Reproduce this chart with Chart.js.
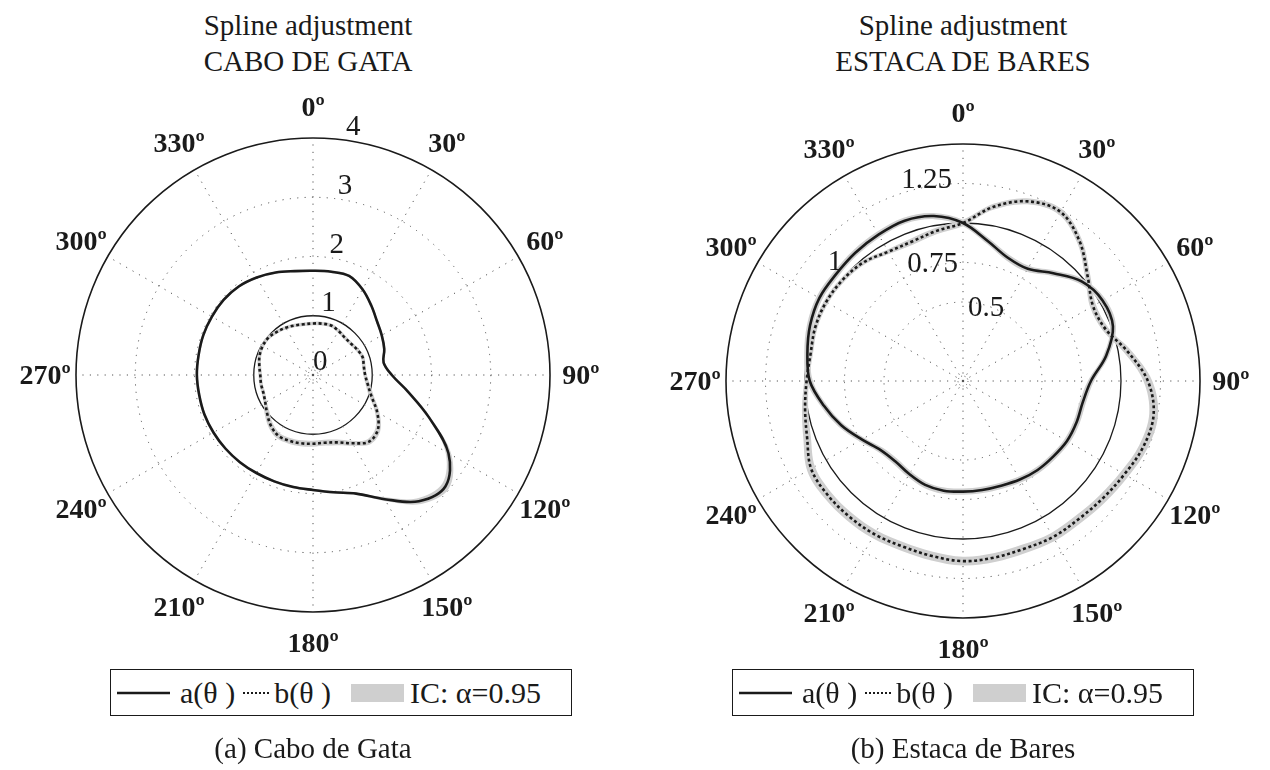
<!DOCTYPE html>
<html>
<head>
<meta charset="utf-8">
<title>Spline adjustment</title>
<script src="https://cdn.jsdelivr.net/npm/chart.js@4.4.1/dist/chart.umd.min.js"></script>
<style>
  html, body { margin: 0; padding: 0; background: #fff; }
  #page { position: relative; width: 1270px; height: 770px; overflow: hidden;
          font-family: "Liberation Serif", "Times New Roman", serif; color: #1a1a1a; }
  canvas { position: absolute; top: 0; }
  .title { position: absolute; top: 7px; width: 420px; text-align: center;
           font-size: 29px; line-height: 36px; }
  .legend { position: absolute; top: 669px; width: 462px; height: 47px; box-sizing: border-box;
            border: 1.5px solid #1a1a1a; background: #fff; display: flex; align-items: center;
            padding: 0 0 0 6px; font-size: 30px; white-space: nowrap; }
  .legend svg { display: block; flex: none; }
  .legend .ci { display: inline-block; flex: none; width: 53px; height: 18px; background: #cfcfcf; }
  .legend .g10 { margin-left: 10px; }
  .legend .g8 { margin-left: 8px; }
  .legend .g4 { margin-left: 4px; }
  .legend .g20 { margin-left: 20px; }
  .legend .g6 { margin-left: 6px; }
  .caption { position: absolute; top: 730px; width: 420px; text-align: center;
             font-size: 29px; line-height: 36px; }
</style>
</head>
<body>
<div id="page">
  <div class="title" style="left:98px">Spline adjustment<br>CABO DE GATA</div>
  <div class="title" style="left:753px">Spline adjustment<br>ESTACA DE BARES</div>

  <canvas id="gata" width="635" height="770" style="left:0"></canvas>
  <canvas id="bares" width="635" height="770" style="left:635px"></canvas>

  <div class="legend" style="left:110px">
    <svg width="53" height="12"><line x1="0" y1="6" x2="53" y2="6" stroke="#1a1a1a" stroke-width="2.6"/></svg>
    <span class="g10">a(θ )</span>
    <svg class="g8" width="27" height="12"><line x1="0" y1="6" x2="27" y2="6" stroke="#1a1a1a" stroke-width="2" stroke-dasharray="2 2"/></svg>
    <span class="g4">b(θ )</span>
    <span class="ci g20"></span>
    <span class="g6">IC: α=0.95</span>
  </div>
  <div class="legend" style="left:732px">
    <svg width="53" height="12"><line x1="0" y1="6" x2="53" y2="6" stroke="#1a1a1a" stroke-width="2.6"/></svg>
    <span class="g10">a(θ )</span>
    <svg class="g8" width="27" height="12"><line x1="0" y1="6" x2="27" y2="6" stroke="#1a1a1a" stroke-width="2" stroke-dasharray="2 2"/></svg>
    <span class="g4">b(θ )</span>
    <span class="ci g20"></span>
    <span class="g6">IC: α=0.95</span>
  </div>

  <div class="caption" style="left:103px">(a) Cabo de Gata</div>
  <div class="caption" style="left:753px">(b) Estaca de Bares</div>
</div>

<script>
// Direction (degrees, clockwise from north) of every spline sample
const thetaDeg = [0, 10, 20, 30, 40, 50, 60, 70, 80, 90, 100, 110,
                  120, 130, 140, 150, 160, 170, 180, 190, 200, 210, 220, 230,
                  240, 250, 260, 270, 280, 290, 300, 310, 320, 330, 340, 350];
const angleTickLabels = ['0º', '30º', '60º', '90º', '120º', '150º',
                         '180º', '210º', '240º', '270º', '300º', '330º'];

// Cabo de Gata: a(θ), b(θ) and half-width of the 95% interval
const gataA = [1.76, 1.77, 1.78, 1.67, 1.53, 1.41, 1.34, 1.28, 1.21, 1.33, 1.63, 2.08,
               2.64, 2.92, 2.78, 2.42, 2.13, 2.01, 1.94, 1.92, 1.91, 1.91, 1.92, 1.93,
               1.94, 1.95, 1.95, 1.96, 1.96, 1.97, 1.97, 1.97, 1.95, 1.90, 1.84, 1.78];
const gataB = [0.87, 0.88, 0.89, 0.86, 0.83, 0.83, 0.86, 0.89, 0.87, 0.88, 0.94, 1.05,
               1.25, 1.43, 1.47, 1.33, 1.21, 1.16, 1.16, 1.17, 1.18, 1.18, 1.11, 1.01,
               0.93, 0.89, 0.89, 0.89, 0.92, 0.96, 0.98, 0.98, 0.95, 0.92, 0.89, 0.87];
const gataCiA = [0.02, 0.02, 0.02, 0.02, 0.02, 0.02, 0.02, 0.02, 0.02, 0.02, 0.02, 0.03,
                 0.06, 0.07, 0.06, 0.04, 0.02, 0.02, 0.02, 0.02, 0.02, 0.02, 0.02, 0.02,
                 0.02, 0.02, 0.02, 0.02, 0.02, 0.02, 0.02, 0.02, 0.02, 0.02, 0.02, 0.02];
const gataCiB = [0.03, 0.03, 0.03, 0.03, 0.03, 0.03, 0.03, 0.03, 0.03, 0.03, 0.04, 0.05,
                 0.05, 0.05, 0.05, 0.05, 0.05, 0.05, 0.05, 0.05, 0.05, 0.05, 0.05, 0.05,
                 0.03, 0.03, 0.03, 0.03, 0.03, 0.03, 0.03, 0.03, 0.03, 0.03, 0.03, 0.03];
const gataTicks = [0, 1, 2, 3, 4];
const gataTickText = ['0', '1', '2', '3', '4'];

// Estaca de Bares
const baresA = [1.00, 0.90, 0.83, 0.82, 0.89, 0.98, 1.02, 1.01, 0.92, 0.81, 0.77, 0.765,
                0.76, 0.745, 0.735, 0.72, 0.705, 0.70, 0.70, 0.705, 0.70, 0.68, 0.665, 0.68,
                0.74, 0.82, 0.895, 0.97, 1.00, 1.03, 1.05, 1.05, 1.06, 1.07, 1.08, 1.06];
const baresB = [1.00, 1.12, 1.21, 1.235, 1.15, 1.03, 0.95, 0.96, 1.06, 1.17, 1.225, 1.215,
                1.18, 1.155, 1.14, 1.14, 1.13, 1.135, 1.14, 1.125, 1.115, 1.12, 1.12, 1.12,
                1.11, 1.05, 1.015, 0.99, 0.98, 0.995, 1.00, 0.995, 0.98, 0.945, 0.94, 0.965];
const baresCiA = [0.02, 0.02, 0.02, 0.02, 0.02, 0.02, 0.02, 0.02, 0.02, 0.02, 0.02, 0.02,
                  0.02, 0.02, 0.02, 0.02, 0.02, 0.02, 0.02, 0.02, 0.02, 0.02, 0.02, 0.02,
                  0.02, 0.02, 0.02, 0.02, 0.02, 0.02, 0.02, 0.02, 0.02, 0.02, 0.02, 0.02];
const baresCiB = [0.02, 0.02, 0.02, 0.02, 0.02, 0.02, 0.02, 0.02, 0.025, 0.028, 0.028, 0.028,
                  0.028, 0.028, 0.028, 0.028, 0.028, 0.028, 0.028, 0.028, 0.028, 0.028, 0.028, 0.028,
                  0.028, 0.025, 0.02, 0.015, 0.015, 0.015, 0.015, 0.015, 0.015, 0.015, 0.02, 0.02];
const baresTicks = [0.5, 0.75, 1, 1.25];
const baresTickText = ['0.5', '0.75', '1', '1.25'];

const INK = '#1a1a1a';
const DOTS = '#555555';
const BAND = '#cfcfcf';

const plus = (v, ci) => v.map((x, i) => x + ci[i]);
const minus = (v, ci) => v.map((x, i) => x - ci[i]);

// Curves first so they sit on top; interval bands are filled between an upper and a lower outline
function buildDatasets(a, b, ciA, ciB) {
  return [
    { label: 'a(θ)', data: a, borderColor: INK, borderWidth: 2.6, fill: false },
    { label: 'b(θ)', data: b, borderColor: INK, borderWidth: 2.6, borderDash: [3, 2.6], fill: false },
    { label: 'IC a+', data: plus(a, ciA), borderWidth: 0, borderColor: 'rgba(0,0,0,0)', backgroundColor: BAND, fill: '+1' },
    { label: 'IC a-', data: minus(a, ciA), borderWidth: 0, borderColor: 'rgba(0,0,0,0)', fill: false },
    { label: 'IC b+', data: plus(b, ciB), borderWidth: 0, borderColor: 'rgba(0,0,0,0)', backgroundColor: BAND, fill: '+1' },
    { label: 'IC b-', data: minus(b, ciB), borderWidth: 0, borderColor: 'rgba(0,0,0,0)', fill: false }
  ];
}

// Angle labels around the rim, radial value labels and the small hub circle
const polarDecor = {
  id: 'polarDecor',
  beforeDatasetsDraw(chart) {
    const s = chart.scales.r, ctx = chart.ctx;
    ctx.save();
    ctx.strokeStyle = DOTS;
    ctx.lineWidth = 1;
    ctx.setLineDash([1, 2.5]);
    ctx.beginPath();
    ctx.arc(s.xCenter, s.yCenter, 5, 0, Math.PI * 2);
    ctx.stroke();
    ctx.restore();
  },
  afterDraw(chart, args, opts) {
    const s = chart.scales.r, ctx = chart.ctx;
    ctx.save();
    ctx.fillStyle = INK;
    ctx.font = 'bold 28px "Liberation Serif"';
    ctx.textAlign = 'center';
    ctx.textBaseline = 'middle';
    const rim = s.drawingArea * opts.labelRadius;
    thetaDeg.forEach((deg, i) => {
      if (deg % 30 !== 0) return;
      const p = s.getPointPosition(i, rim);
      ctx.fillText(angleTickLabels[deg / 30], p.x, p.y + 2);
    });
    ctx.font = '29px "Liberation Serif"';
    opts.ticks.forEach((v, k) => {
      const pl = opts.place[k];
      const p = s.getPointPosition(0, s.getDistanceFromCenterForValue(v), pl.angle * Math.PI / 180);
      ctx.textAlign = pl.align;
      ctx.textBaseline = pl.baseline;
      ctx.fillText(opts.text[k], p.x + pl.dx, p.y + pl.dy);
    });
    ctx.restore();
  }
};

function polarOptions(max, step, solidIndex, hiddenIndex, padding, decor) {
  return {
    responsive: false,
    animation: false,
    events: [],
    layout: { padding },
    elements: { point: { radius: 0, hoverRadius: 0 }, line: { tension: 0.35 } },
    plugins: { legend: { display: false }, tooltip: { enabled: false }, polarDecor: decor },
    scales: {
      r: {
        min: 0,
        max: max,
        startAngle: 0,
        ticks: { display: false, stepSize: step },
        pointLabels: { display: false },
        angleLines: {
          color: DOTS,
          lineWidth: c => (thetaDeg[c.index] % 30 === 0 ? 1 : 0),
          borderDash: [1.2, 6.2]
        },
        grid: {
          circular: true,
          color: c => {
            const last = c.index === c.chart.scales.r.ticks.length - 1;
            return (last || c.index === solidIndex) ? INK : DOTS;
          },
          lineWidth: c => {
            const n = c.chart.scales.r.ticks.length;
            if (c.index === n - 1) return 1.6;
            if (c.index === solidIndex) return 1.3;
            return c.index === hiddenIndex ? 0 : 1;
          }
        },
        border: {
          dash: c => {
            const last = c.index === c.chart.scales.r.ticks.length - 1;
            return (last || c.index === solidIndex) ? [] : [1.2, 6.2];
          }
        }
      }
    }
  };
}

Chart.register(polarDecor);

new Chart(document.getElementById('gata'), {
  type: 'radar',
  data: { labels: thetaDeg, datasets: buildDatasets(gataA, gataB, gataCiA, gataCiB) },
  options: polarOptions(4, 1, 1, -1, { left: 76, right: 85, top: 138, bottom: 158 }, {
    labelRadius: 1.13,
    ticks: gataTicks,
    text: gataTickText,
    place: gataTicks.map(() => ({ angle: 8, dx: 0, dy: 2, align: 'left', baseline: 'bottom' }))
  })
});

new Chart(document.getElementById('bares'), {
  type: 'radar',
  data: { labels: thetaDeg, datasets: buildDatasets(baresA, baresB, baresCiA, baresCiB) },
  options: polarOptions(1.5, 0.25, 4, 1, { left: 91, right: 70, top: 144, bottom: 152 }, {
    labelRadius: 1.13,
    ticks: baresTicks,
    text: baresTickText,
    place: [
      { angle: 0, dx: 5, dy: 6, align: 'left', baseline: 'middle' },
      { angle: 0, dx: -5, dy: 2, align: 'right', baseline: 'middle' },
      { angle: -45, dx: -9, dy: -7, align: 'right', baseline: 'middle' },
      { angle: 0, dx: -11, dy: -3, align: 'right', baseline: 'middle' }
    ]
  })
});
</script>
</body>
</html>
